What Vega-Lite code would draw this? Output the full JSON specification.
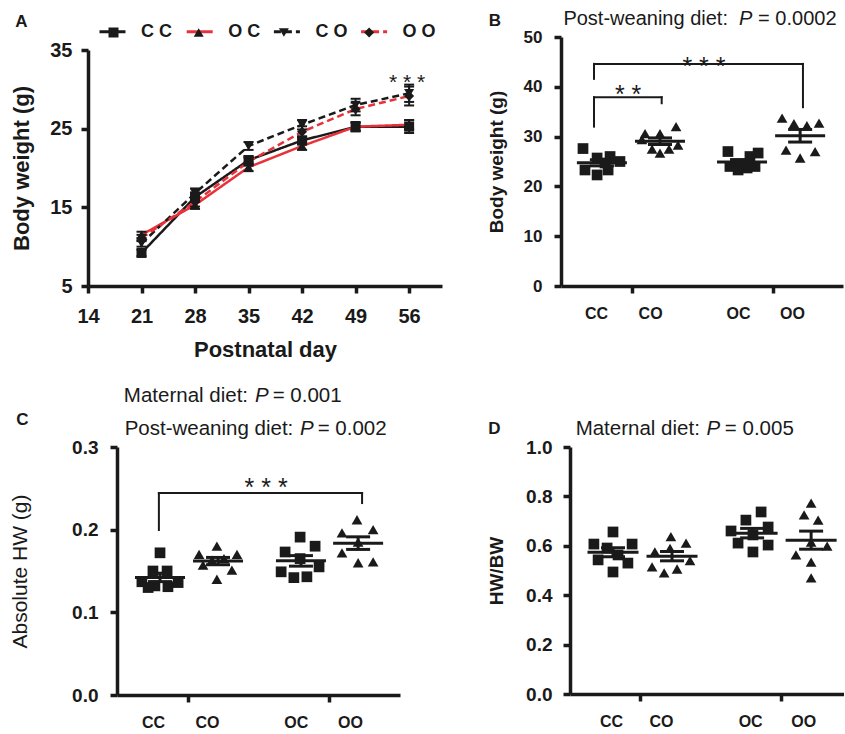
{
  "$schema": "https://vega.github.io/schema/vega-lite/v6.json",
  "padding": {"left": 9, "top": 8, "right": 0, "bottom": 0},
  "config": {
    "font": "Liberation Sans",
    "view": {"stroke": null},
    "axis": {"grid": false, "domainColor": "#1a1a1a", "domainWidth": 3.5, "tickColor": "#1a1a1a", "tickWidth": 3.5, "tickSize": 7, "labelFont": "Liberation Sans", "titleFont": "Liberation Sans", "labelFontWeight": "bold", "labelColor": "#1a1a1a", "titleColor": "#1a1a1a", "labelFlush": false, "labelOverlap": false},
    "text": {"font": "Liberation Sans", "color": "#1a1a1a"}
  },
  "resolve": {"scale": {"shape": "independent", "color": "independent", "strokeDash": "independent"}},
  "datasets": {
    "growth": [
      {"series": "CC", "day": 21, "bw": 9.2, "sem": 0.4},
      {"series": "CC", "day": 28, "bw": 16.3, "sem": 0.6},
      {"series": "CC", "day": 35, "bw": 21.0, "sem": 0.5},
      {"series": "CC", "day": 42, "bw": 23.5, "sem": 0.5},
      {"series": "CC", "day": 49, "bw": 25.25, "sem": 0.6},
      {"series": "CC", "day": 56, "bw": 25.25, "sem": 0.8},
      {"series": "OC", "day": 21, "bw": 11.5, "sem": 0.4},
      {"series": "OC", "day": 28, "bw": 15.3, "sem": 0.5},
      {"series": "OC", "day": 35, "bw": 20.1, "sem": 0.5},
      {"series": "OC", "day": 42, "bw": 22.8, "sem": 0.5},
      {"series": "OC", "day": 49, "bw": 25.25, "sem": 0.5},
      {"series": "OC", "day": 56, "bw": 25.5, "sem": 0.6},
      {"series": "CO", "day": 21, "bw": 10.4, "sem": 0.4},
      {"series": "CO", "day": 28, "bw": 16.8, "sem": 0.6},
      {"series": "CO", "day": 35, "bw": 22.8, "sem": 0.5},
      {"series": "CO", "day": 42, "bw": 25.5, "sem": 0.6},
      {"series": "CO", "day": 49, "bw": 28.0, "sem": 0.8},
      {"series": "CO", "day": 56, "bw": 29.5, "sem": 1.1},
      {"series": "OO", "day": 21, "bw": 11.1, "sem": 0.4},
      {"series": "OO", "day": 28, "bw": 15.7, "sem": 0.6},
      {"series": "OO", "day": 35, "bw": 20.8, "sem": 0.5},
      {"series": "OO", "day": 42, "bw": 24.6, "sem": 0.7},
      {"series": "OO", "day": 49, "bw": 27.5, "sem": 0.8},
      {"series": "OO", "day": 56, "bw": 29.15, "sem": 1.2}
    ],
    "organ": [
      {"panel": "B", "group": "CC", "gx": 1.45, "px": 0.78, "v": 27.6},
      {"panel": "B", "group": "CC", "gx": 1.45, "px": 0.85, "v": 23.3},
      {"panel": "B", "group": "CC", "gx": 1.45, "px": 1.28, "v": 22.3},
      {"panel": "B", "group": "CC", "gx": 1.45, "px": 1.28, "v": 25.7},
      {"panel": "B", "group": "CC", "gx": 1.45, "px": 1.74, "v": 26.0},
      {"panel": "B", "group": "CC", "gx": 1.45, "px": 1.67, "v": 23.3},
      {"panel": "B", "group": "CC", "gx": 1.45, "px": 2.09, "v": 25.0},
      {"panel": "B", "group": "CC", "gx": 1.45, "px": 1.56, "v": 24.7},
      {"panel": "B", "group": "CO", "gx": 3.51, "px": 2.98, "v": 30.6},
      {"panel": "B", "group": "CO", "gx": 3.51, "px": 3.51, "v": 30.6},
      {"panel": "B", "group": "CO", "gx": 3.51, "px": 4.08, "v": 32.0},
      {"panel": "B", "group": "CO", "gx": 3.51, "px": 2.87, "v": 29.4},
      {"panel": "B", "group": "CO", "gx": 3.51, "px": 3.23, "v": 27.5},
      {"panel": "B", "group": "CO", "gx": 3.51, "px": 3.51, "v": 26.7},
      {"panel": "B", "group": "CO", "gx": 3.51, "px": 3.83, "v": 27.5},
      {"panel": "B", "group": "CO", "gx": 3.51, "px": 4.15, "v": 28.3},
      {"panel": "B", "group": "OC", "gx": 6.42, "px": 5.92, "v": 27.0},
      {"panel": "B", "group": "OC", "gx": 6.42, "px": 6.99, "v": 26.7},
      {"panel": "B", "group": "OC", "gx": 6.42, "px": 6.70, "v": 26.0},
      {"panel": "B", "group": "OC", "gx": 6.42, "px": 5.99, "v": 24.0},
      {"panel": "B", "group": "OC", "gx": 6.42, "px": 6.28, "v": 23.3},
      {"panel": "B", "group": "OC", "gx": 6.42, "px": 6.60, "v": 23.7},
      {"panel": "B", "group": "OC", "gx": 6.42, "px": 6.88, "v": 24.0},
      {"panel": "B", "group": "OC", "gx": 6.42, "px": 6.24, "v": 24.3},
      {"panel": "B", "group": "OO", "gx": 8.48, "px": 7.84, "v": 33.7},
      {"panel": "B", "group": "OO", "gx": 8.48, "px": 8.26, "v": 32.6},
      {"panel": "B", "group": "OO", "gx": 8.48, "px": 8.72, "v": 32.2},
      {"panel": "B", "group": "OO", "gx": 8.48, "px": 9.15, "v": 32.7},
      {"panel": "B", "group": "OO", "gx": 8.48, "px": 7.98, "v": 27.3},
      {"panel": "B", "group": "OO", "gx": 8.48, "px": 8.48, "v": 25.7},
      {"panel": "B", "group": "OO", "gx": 8.48, "px": 9.01, "v": 27.0},
      {"panel": "C", "group": "CC", "gx": 1.52, "px": 1.52, "v": 0.172},
      {"panel": "C", "group": "CC", "gx": 1.52, "px": 1.27, "v": 0.150},
      {"panel": "C", "group": "CC", "gx": 1.52, "px": 1.77, "v": 0.150},
      {"panel": "C", "group": "CC", "gx": 1.52, "px": 0.88, "v": 0.137},
      {"panel": "C", "group": "CC", "gx": 1.52, "px": 1.34, "v": 0.132},
      {"panel": "C", "group": "CC", "gx": 1.52, "px": 1.80, "v": 0.131},
      {"panel": "C", "group": "CC", "gx": 1.52, "px": 2.16, "v": 0.136},
      {"panel": "C", "group": "CC", "gx": 1.52, "px": 1.10, "v": 0.130},
      {"panel": "C", "group": "CO", "gx": 3.57, "px": 3.53, "v": 0.180},
      {"panel": "C", "group": "CO", "gx": 3.57, "px": 2.90, "v": 0.170},
      {"panel": "C", "group": "CO", "gx": 3.57, "px": 4.24, "v": 0.170},
      {"panel": "C", "group": "CO", "gx": 3.57, "px": 3.04, "v": 0.157},
      {"panel": "C", "group": "CO", "gx": 3.57, "px": 4.06, "v": 0.151},
      {"panel": "C", "group": "CO", "gx": 3.57, "px": 3.53, "v": 0.140},
      {"panel": "C", "group": "CO", "gx": 3.57, "px": 3.36, "v": 0.163},
      {"panel": "C", "group": "CO", "gx": 3.57, "px": 3.78, "v": 0.165},
      {"panel": "C", "group": "OC", "gx": 6.50, "px": 6.47, "v": 0.191},
      {"panel": "C", "group": "OC", "gx": 6.50, "px": 7.00, "v": 0.180},
      {"panel": "C", "group": "OC", "gx": 6.50, "px": 5.94, "v": 0.173},
      {"panel": "C", "group": "OC", "gx": 6.50, "px": 6.47, "v": 0.165},
      {"panel": "C", "group": "OC", "gx": 6.50, "px": 5.80, "v": 0.149},
      {"panel": "C", "group": "OC", "gx": 6.50, "px": 6.25, "v": 0.142},
      {"panel": "C", "group": "OC", "gx": 6.50, "px": 6.71, "v": 0.143},
      {"panel": "C", "group": "OC", "gx": 6.50, "px": 7.14, "v": 0.155},
      {"panel": "C", "group": "OO", "gx": 8.52, "px": 8.48, "v": 0.212},
      {"panel": "C", "group": "OO", "gx": 8.52, "px": 7.95, "v": 0.196},
      {"panel": "C", "group": "OO", "gx": 8.52, "px": 9.05, "v": 0.200},
      {"panel": "C", "group": "OO", "gx": 8.52, "px": 7.95, "v": 0.172},
      {"panel": "C", "group": "OO", "gx": 8.52, "px": 8.52, "v": 0.160},
      {"panel": "C", "group": "OO", "gx": 8.52, "px": 9.05, "v": 0.161},
      {"panel": "C", "group": "OO", "gx": 8.52, "px": 8.52, "v": 0.185},
      {"panel": "D", "group": "CC", "gx": 1.53, "px": 1.53, "v": 0.656},
      {"panel": "D", "group": "CC", "gx": 1.53, "px": 0.85, "v": 0.607},
      {"panel": "D", "group": "CC", "gx": 1.53, "px": 2.21, "v": 0.607},
      {"panel": "D", "group": "CC", "gx": 1.53, "px": 1.32, "v": 0.591},
      {"panel": "D", "group": "CC", "gx": 1.53, "px": 1.71, "v": 0.563},
      {"panel": "D", "group": "CC", "gx": 1.53, "px": 1.00, "v": 0.543},
      {"panel": "D", "group": "CC", "gx": 1.53, "px": 2.06, "v": 0.530},
      {"panel": "D", "group": "CC", "gx": 1.53, "px": 1.53, "v": 0.494},
      {"panel": "D", "group": "CO", "gx": 3.63, "px": 3.59, "v": 0.637},
      {"panel": "D", "group": "CO", "gx": 3.63, "px": 4.13, "v": 0.611},
      {"panel": "D", "group": "CO", "gx": 3.63, "px": 3.02, "v": 0.575},
      {"panel": "D", "group": "CO", "gx": 3.63, "px": 4.27, "v": 0.540},
      {"panel": "D", "group": "CO", "gx": 3.63, "px": 2.92, "v": 0.515},
      {"panel": "D", "group": "CO", "gx": 3.63, "px": 3.35, "v": 0.490},
      {"panel": "D", "group": "CO", "gx": 3.63, "px": 3.81, "v": 0.506},
      {"panel": "D", "group": "CO", "gx": 3.63, "px": 3.56, "v": 0.590},
      {"panel": "D", "group": "OC", "gx": 6.48, "px": 6.80, "v": 0.737},
      {"panel": "D", "group": "OC", "gx": 6.48, "px": 6.26, "v": 0.704},
      {"panel": "D", "group": "OC", "gx": 6.48, "px": 5.73, "v": 0.660},
      {"panel": "D", "group": "OC", "gx": 6.48, "px": 7.05, "v": 0.676},
      {"panel": "D", "group": "OC", "gx": 6.48, "px": 5.98, "v": 0.611},
      {"panel": "D", "group": "OC", "gx": 6.48, "px": 6.51, "v": 0.644},
      {"panel": "D", "group": "OC", "gx": 6.48, "px": 7.05, "v": 0.603},
      {"panel": "D", "group": "OC", "gx": 6.48, "px": 6.51, "v": 0.575},
      {"panel": "D", "group": "OO", "gx": 8.58, "px": 8.58, "v": 0.773},
      {"panel": "D", "group": "OO", "gx": 8.58, "px": 8.33, "v": 0.725},
      {"panel": "D", "group": "OO", "gx": 8.58, "px": 8.83, "v": 0.704},
      {"panel": "D", "group": "OO", "gx": 8.58, "px": 9.15, "v": 0.599},
      {"panel": "D", "group": "OO", "gx": 8.58, "px": 8.04, "v": 0.563},
      {"panel": "D", "group": "OO", "gx": 8.58, "px": 8.58, "v": 0.534},
      {"panel": "D", "group": "OO", "gx": 8.58, "px": 8.58, "v": 0.470},
      {"panel": "D", "group": "OO", "gx": 8.58, "px": 8.58, "v": 0.615}
    ]
  },
  "columns": 2,
  "align": "none",
  "bounds": "flush",
  "spacing": {"row": 161, "column": 119},
  "concat": [
    {
      "width": 354,
      "height": 249,
      "layer": [
        {
          "data": {"name": "growth"},
          "mark": {"type": "line", "strokeWidth": 2.5},
          "encoding": {
            "x": {"field": "day", "type": "quantitative", "scale": {"domain": [14, 60.3], "nice": false, "zero": false},
              "axis": {"values": [14, 21, 28, 35, 42, 49, 56], "format": "d", "title": "Postnatal day", "titleFontSize": 22, "titleFontWeight": "bold", "titlePadding": 13, "labelFontSize": 20, "labelPadding": 13}},
            "y": {"field": "bw", "type": "quantitative", "title": "Body weight (g)", "scale": {"domain": [5, 35], "nice": false, "zero": false, "range": [249, 13]},
              "axis": {"values": [5, 15, 25, 35], "title": "Body weight (g)", "titleFontSize": 22, "titleFontWeight": "bold", "titlePadding": 16, "labelFontSize": 20, "labelPadding": 9}},
            "color": {"field": "series", "type": "nominal", "scale": {"domain": ["CC", "OC", "CO", "OO"], "range": ["#1a1a1a", "#e8323a", "#1a1a1a", "#e8323a"]},
              "legend": {"title": null, "orient": "none", "legendX": 10, "legendY": -20, "direction": "horizontal", "gridAlign": "all", "symbolType": "stroke", "symbolSize": 676, "symbolStrokeWidth": 3, "labelFontSize": 18, "labelFontWeight": "bold", "labelFont": "Liberation Sans", "labelColor": "#1a1a1a", "labelOffset": 14, "columnPadding": 5.2, "padding": 0, "labelExpr": "substring(datum.label,0,1) + ' ' + substring(datum.label,1,2)"}},
            "strokeDash": {"field": "series", "type": "nominal", "scale": {"domain": ["CC", "OC", "CO", "OO"], "range": [[1, 0], [1, 0], [7, 4], [7, 4]]},
              "legend": {"title": null, "orient": "none", "legendX": 10, "legendY": -20, "direction": "horizontal", "gridAlign": "all", "symbolType": "stroke", "symbolSize": 676, "symbolStrokeWidth": 3, "labelFontSize": 18, "labelFontWeight": "bold", "labelFont": "Liberation Sans", "labelColor": "#1a1a1a", "labelOffset": 14, "columnPadding": 5.2, "padding": 0, "labelExpr": "substring(datum.label,0,1) + ' ' + substring(datum.label,1,2)"}}
          }
        },
        {
          "data": {"name": "growth"},
          "mark": {"type": "errorbar", "ticks": true, "size": 10, "thickness": 2, "color": "#1a1a1a", "opacity": 1},
          "encoding": {
            "x": {"field": "day", "type": "quantitative", "title": "Postnatal day"},
            "y": {"field": "bw", "type": "quantitative", "title": "Body weight (g)"},
            "yError": {"field": "sem"}
          }
        },
        {
          "data": {"name": "growth"},
          "mark": {"type": "point", "filled": true, "opacity": 1, "size": 100, "color": "#1a1a1a", "strokeWidth": 0},
          "encoding": {
            "x": {"field": "day", "type": "quantitative", "title": "Postnatal day"},
            "y": {"field": "bw", "type": "quantitative", "title": "Body weight (g)"},
            "shape": {"field": "series", "type": "nominal", "sort": ["CC", "OC", "CO", "OO"], "scale": {"range": ["square", "triangle-up", "triangle-down", "diamond"]},
              "legend": {"title": null, "orient": "none", "legendX": 16.5, "legendY": -13.5, "direction": "horizontal", "gridAlign": "all", "symbolSize": 100, "symbolStrokeWidth": 0, "symbolFillColor": "#1a1a1a", "symbolOpacity": 1, "labelFontSize": 18, "labelOffset": 61.2, "columnPadding": 5.2, "padding": 0, "labelExpr": "''"}}
          }
        },
        {
          "data": {"values": [{}]},
          "mark": {"type": "text", "text": "* * *", "fontSize": 21, "align": "center", "baseline": "alphabetic"},
          "encoding": {"x": {"datum": 55.74, "type": "quantitative"}, "y": {"datum": 29.98, "type": "quantitative"}}
        },
        {
          "data": {"values": [{}]},
          "mark": {"type": "text", "text": "A", "fontSize": 17, "fontWeight": "bold", "align": "center", "baseline": "alphabetic"},
          "encoding": {"x": {"datum": 5.30, "type": "quantitative"}, "y": {"datum": 37.92, "type": "quantitative"}}
        }
      ]
    },
    {
      "width": 282,
      "height": 249,
      "layer": [
        {
          "data": {"name": "organ"},
          "transform": [{"filter": "datum.panel == 'B'"}],
          "mark": {"type": "point", "filled": true, "opacity": 1, "size": 115, "color": "#1a1a1a", "strokeWidth": 0},
          "encoding": {
            "x": {"field": "px", "type": "quantitative", "scale": {"domain": [0, 10], "nice": false, "zero": false},
              "axis": {"title": null, "values": [1.24, 2.5, 3.16, 6.28, 7.5, 8.19], "labelExpr": "datum.value==2.5||datum.value==7.5 ? '' : datum.value<2.5 ? 'CC' : datum.value<5 ? 'CO' : datum.value<7.5 ? 'OC' : 'OO'", "tickOpacity": {"condition": {"test": "datum.value==2.5||datum.value==7.5", "value": 1}, "value": 0}, "labelFontSize": 16, "labelPadding": 12}},
            "y": {"field": "v", "type": "quantitative", "title": "Body weight (g)", "scale": {"domain": [0, 50], "nice": false},
              "axis": {"values": [0, 10, 20, 30, 40, 50], "title": "Body weight (g)", "titleFontSize": 19, "titleFontWeight": "bold", "titlePadding": 17, "labelFontSize": 17, "labelPadding": 12}},
            "shape": {"field": "group", "type": "nominal", "scale": {"domain": ["CC", "CO", "OC", "OO"], "range": ["square", "triangle-up", "square", "triangle-up"]}, "legend": null}
          }
        },
        {
          "data": {"name": "organ"},
          "transform": [{"filter": "datum.panel == 'B'"}],
          "mark": {"type": "tick", "orient": "horizontal", "size": 50, "thickness": 3, "color": "#1a1a1a", "opacity": 1},
          "encoding": {
            "x": {"field": "gx", "type": "quantitative"},
            "y": {"aggregate": "mean", "field": "v", "type": "quantitative", "title": "Body weight (g)"}
          }
        },
        {
          "data": {"name": "organ"},
          "transform": [{"filter": "datum.panel == 'B'"}],
          "mark": {"type": "errorbar", "extent": "stderr", "orient": "vertical", "ticks": true, "size": 24, "thickness": 3, "color": "#1a1a1a", "opacity": 1},
          "encoding": {
            "x": {"field": "gx", "type": "quantitative"},
            "y": {"field": "v", "type": "quantitative", "title": "Body weight (g)"}
          }
        },
        {"data": {"values": [{}]}, "mark": {"type": "rule", "strokeWidth": 2, "strokeCap": "square", "color": "#1a1a1a"},
          "encoding": {"x": {"datum": 1.17, "type": "quantitative"}, "y": {"datum": 41.6, "type": "quantitative"}, "y2": {"datum": 44.6}}},
        {"data": {"values": [{}]}, "mark": {"type": "rule", "strokeWidth": 2, "strokeCap": "square", "color": "#1a1a1a"},
          "encoding": {"x": {"datum": 1.17, "type": "quantitative"}, "x2": {"datum": 8.58}, "y": {"datum": 44.6, "type": "quantitative"}}},
        {"data": {"values": [{}]}, "mark": {"type": "rule", "strokeWidth": 2, "strokeCap": "square", "color": "#1a1a1a"},
          "encoding": {"x": {"datum": 8.58, "type": "quantitative"}, "y": {"datum": 35.9, "type": "quantitative"}, "y2": {"datum": 44.6}}},
        {"data": {"values": [{}]}, "mark": {"type": "rule", "strokeWidth": 2, "strokeCap": "square", "color": "#1a1a1a"},
          "encoding": {"x": {"datum": 1.17, "type": "quantitative"}, "y": {"datum": 32.0, "type": "quantitative"}, "y2": {"datum": 37.9}}},
        {"data": {"values": [{}]}, "mark": {"type": "rule", "strokeWidth": 2, "strokeCap": "square", "color": "#1a1a1a"},
          "encoding": {"x": {"datum": 1.17, "type": "quantitative"}, "x2": {"datum": 3.57}, "y": {"datum": 37.9, "type": "quantitative"}}},
        {"data": {"values": [{}]}, "mark": {"type": "rule", "strokeWidth": 2, "strokeCap": "square", "color": "#1a1a1a"},
          "encoding": {"x": {"datum": 3.57, "type": "quantitative"}, "y": {"datum": 36.7, "type": "quantitative"}, "y2": {"datum": 37.9}}},
        {"data": {"values": [{}]}, "mark": {"type": "text", "text": "* * *", "fontSize": 25, "align": "center", "baseline": "alphabetic"},
          "encoding": {"x": {"datum": 5.07, "type": "quantitative"}, "y": {"datum": 42.4, "type": "quantitative"}}},
        {"data": {"values": [{}]}, "mark": {"type": "text", "text": "* *", "fontSize": 25, "align": "center", "baseline": "alphabetic"},
          "encoding": {"x": {"datum": 2.38, "type": "quantitative"}, "y": {"datum": 36.7, "type": "quantitative"}}},
        {"data": {"values": [{}]}, "mark": {"type": "text", "text": "B", "fontSize": 17, "fontWeight": "bold", "align": "center", "baseline": "alphabetic"},
          "encoding": {"x": {"datum": -2.34, "type": "quantitative"}, "y": {"datum": 52.2, "type": "quantitative"}}},
        {"data": {"values": [{}]}, "mark": {"type": "text", "text": "Post-weaning diet:", "fontSize": 20, "align": "right", "baseline": "alphabetic"},
          "encoding": {"x": {"datum": 5.92, "type": "quantitative"}, "y": {"datum": 52.41, "type": "quantitative"}}},
        {"data": {"values": [{}]}, "mark": {"type": "text", "text": "P", "fontSize": 20, "fontStyle": "italic", "align": "left", "baseline": "alphabetic"},
          "encoding": {"x": {"datum": 6.31, "type": "quantitative"}, "y": {"datum": 52.41, "type": "quantitative"}}},
        {"data": {"values": [{}]}, "mark": {"type": "text", "text": "= 0.0002", "fontSize": 20, "align": "left", "baseline": "alphabetic"},
          "encoding": {"x": {"datum": 6.99, "type": "quantitative"}, "y": {"datum": 52.41, "type": "quantitative"}}}
      ]
    },
    {
      "width": 354,
      "height": 248,
      "layer": [
        {
          "data": {"name": "organ"},
          "transform": [{"filter": "datum.panel == 'C'"}],
          "mark": {"type": "point", "filled": true, "opacity": 1, "size": 115, "color": "#1a1a1a", "strokeWidth": 0},
          "encoding": {
            "x": {"field": "px", "type": "quantitative", "scale": {"domain": [0, 10], "nice": false, "zero": false, "range": [29, 312]},
              "axis": {"title": null, "values": [1.27, 2.5, 3.18, 6.32, 7.5, 8.23], "labelExpr": "datum.value==2.5||datum.value==7.5 ? '' : datum.value<2.5 ? 'CC' : datum.value<5 ? 'CO' : datum.value<7.5 ? 'OC' : 'OO'", "tickOpacity": {"condition": {"test": "datum.value==2.5||datum.value==7.5", "value": 1}, "value": 0}, "labelFontSize": 16, "labelPadding": 12}},
            "y": {"field": "v", "type": "quantitative", "title": "Absolute HW (g)", "scale": {"domain": [0, 0.3], "nice": false},
              "axis": {"values": [0, 0.1, 0.2, 0.3], "format": ".1f", "offset": -29, "title": "Absolute HW (g)", "titleFontSize": 21, "titleFontWeight": "normal", "titlePadding": 41, "labelFontSize": 19, "labelPadding": 12}},
            "shape": {"field": "group", "type": "nominal", "scale": {"domain": ["CC", "CO", "OC", "OO"], "range": ["square", "triangle-up", "square", "triangle-up"]}, "legend": null}
          }
        },
        {
          "data": {"name": "organ"},
          "transform": [{"filter": "datum.panel == 'C'"}],
          "mark": {"type": "tick", "orient": "horizontal", "size": 50, "thickness": 3, "color": "#1a1a1a", "opacity": 1},
          "encoding": {
            "x": {"field": "gx", "type": "quantitative"},
            "y": {"aggregate": "mean", "field": "v", "type": "quantitative", "title": "Absolute HW (g)"}
          }
        },
        {
          "data": {"name": "organ"},
          "transform": [{"filter": "datum.panel == 'C'"}],
          "mark": {"type": "errorbar", "extent": "stderr", "orient": "vertical", "ticks": true, "size": 24, "thickness": 3, "color": "#1a1a1a", "opacity": 1},
          "encoding": {
            "x": {"field": "gx", "type": "quantitative"},
            "y": {"field": "v", "type": "quantitative", "title": "Absolute HW (g)"}
          }
        },
        {"data": {"values": [{}]}, "mark": {"type": "rule", "strokeWidth": 2, "strokeCap": "square", "color": "#1a1a1a"},
          "encoding": {"x": {"datum": 1.48, "type": "quantitative"}, "y": {"datum": 0.1996, "type": "quantitative"}, "y2": {"datum": 0.2443}}},
        {"data": {"values": [{}]}, "mark": {"type": "rule", "strokeWidth": 2, "strokeCap": "square", "color": "#1a1a1a"},
          "encoding": {"x": {"datum": 1.48, "type": "quantitative"}, "x2": {"datum": 8.66}, "y": {"datum": 0.2443, "type": "quantitative"}}},
        {"data": {"values": [{}]}, "mark": {"type": "rule", "strokeWidth": 2, "strokeCap": "square", "color": "#1a1a1a"},
          "encoding": {"x": {"datum": 8.66, "type": "quantitative"}, "y": {"datum": 0.2322, "type": "quantitative"}, "y2": {"datum": 0.2443}}},
        {"data": {"values": [{}]}, "mark": {"type": "text", "text": "* * *", "fontSize": 25, "align": "center", "baseline": "alphabetic"},
          "encoding": {"x": {"datum": 5.27, "type": "quantitative"}, "y": {"datum": 0.2407, "type": "quantitative"}}},
        {"data": {"values": [{}]}, "mark": {"type": "text", "text": "C", "fontSize": 17, "fontWeight": "bold", "align": "center", "baseline": "alphabetic"},
          "encoding": {"x": {"datum": -3.34, "type": "quantitative"}, "y": {"datum": 0.3266, "type": "quantitative"}}},
        {"data": {"values": [{}]}, "mark": {"type": "text", "text": "Maternal diet:", "fontSize": 20.5, "align": "right", "baseline": "alphabetic"},
          "encoding": {"x": {"datum": 4.63, "type": "quantitative"}, "y": {"datum": 0.3544, "type": "quantitative"}}},
        {"data": {"values": [{}]}, "mark": {"type": "text", "text": "P", "fontSize": 20.5, "fontStyle": "italic", "align": "left", "baseline": "alphabetic"},
          "encoding": {"x": {"datum": 4.88, "type": "quantitative"}, "y": {"datum": 0.3544, "type": "quantitative"}}},
        {"data": {"values": [{}]}, "mark": {"type": "text", "text": "= 0.001", "fontSize": 20.5, "align": "left", "baseline": "alphabetic"},
          "encoding": {"x": {"datum": 5.50, "type": "quantitative"}, "y": {"datum": 0.3544, "type": "quantitative"}}},
        {"data": {"values": [{}]}, "mark": {"type": "text", "text": "Post-weaning diet:", "fontSize": 20.5, "align": "right", "baseline": "alphabetic"},
          "encoding": {"x": {"datum": 6.23, "type": "quantitative"}, "y": {"datum": 0.3145, "type": "quantitative"}}},
        {"data": {"values": [{}]}, "mark": {"type": "text", "text": "P", "fontSize": 20.5, "fontStyle": "italic", "align": "left", "baseline": "alphabetic"},
          "encoding": {"x": {"datum": 6.47, "type": "quantitative"}, "y": {"datum": 0.3145, "type": "quantitative"}}},
        {"data": {"values": [{}]}, "mark": {"type": "text", "text": "= 0.002", "fontSize": 20.5, "align": "left", "baseline": "alphabetic"},
          "encoding": {"x": {"datum": 7.09, "type": "quantitative"}, "y": {"datum": 0.3145, "type": "quantitative"}}}
      ]
    },
    {
      "width": 283,
      "height": 247,
      "layer": [
        {
          "data": {"name": "organ"},
          "transform": [{"filter": "datum.panel == 'D'"}],
          "mark": {"type": "point", "filled": true, "opacity": 1, "size": 115, "color": "#1a1a1a", "strokeWidth": 0},
          "encoding": {
            "x": {"field": "px", "type": "quantitative", "scale": {"domain": [0, 9.75], "nice": false, "zero": false, "range": [9, 283]},
              "axis": {"title": null, "values": [1.46, 2.5, 3.24, 6.41, 7.5, 8.3], "labelExpr": "datum.value==2.5||datum.value==7.5 ? '' : datum.value<2.5 ? 'CC' : datum.value<5 ? 'CO' : datum.value<7.5 ? 'OC' : 'OO'", "tickOpacity": {"condition": {"test": "datum.value==2.5||datum.value==7.5", "value": 1}, "value": 0}, "labelFontSize": 16, "labelPadding": 12}},
            "y": {"field": "v", "type": "quantitative", "title": "HW/BW", "scale": {"domain": [0, 1], "nice": false},
              "axis": {"values": [0, 0.2, 0.4, 0.6, 0.8, 1.0], "format": ".1f", "offset": -9, "title": "HW/BW", "titleFontSize": 19, "titleFontWeight": "bold", "titlePadding": 19, "labelFontSize": 19, "labelPadding": 11}},
            "shape": {"field": "group", "type": "nominal", "scale": {"domain": ["CC", "CO", "OC", "OO"], "range": ["square", "triangle-up", "square", "triangle-up"]}, "legend": null}
          }
        },
        {
          "data": {"name": "organ"},
          "transform": [{"filter": "datum.panel == 'D'"}],
          "mark": {"type": "tick", "orient": "horizontal", "size": 51, "thickness": 3, "color": "#1a1a1a", "opacity": 1},
          "encoding": {
            "x": {"field": "gx", "type": "quantitative"},
            "y": {"aggregate": "mean", "field": "v", "type": "quantitative", "title": "HW/BW"}
          }
        },
        {
          "data": {"name": "organ"},
          "transform": [{"filter": "datum.panel == 'D'"}],
          "mark": {"type": "errorbar", "extent": "stderr", "orient": "vertical", "ticks": true, "size": 24, "thickness": 3, "color": "#1a1a1a", "opacity": 1},
          "encoding": {
            "x": {"field": "gx", "type": "quantitative"},
            "y": {"field": "v", "type": "quantitative", "title": "HW/BW"}
          }
        },
        {"data": {"values": [{}]}, "mark": {"type": "text", "text": "D", "fontSize": 17, "fontWeight": "bold", "align": "center", "baseline": "alphabetic"},
          "encoding": {"x": {"datum": -2.69, "type": "quantitative"}, "y": {"datum": 1.053, "type": "quantitative"}}},
        {"data": {"values": [{}]}, "mark": {"type": "text", "text": "Maternal diet:", "fontSize": 20.5, "align": "right", "baseline": "alphabetic"},
          "encoding": {"x": {"datum": 4.62, "type": "quantitative"}, "y": {"datum": 1.049, "type": "quantitative"}}},
        {"data": {"values": [{}]}, "mark": {"type": "text", "text": "P", "fontSize": 20.5, "fontStyle": "italic", "align": "left", "baseline": "alphabetic"},
          "encoding": {"x": {"datum": 4.86, "type": "quantitative"}, "y": {"datum": 1.049, "type": "quantitative"}}},
        {"data": {"values": [{}]}, "mark": {"type": "text", "text": "= 0.005", "fontSize": 20.5, "align": "left", "baseline": "alphabetic"},
          "encoding": {"x": {"datum": 5.51, "type": "quantitative"}, "y": {"datum": 1.049, "type": "quantitative"}}}
      ]
    }
  ]
}
